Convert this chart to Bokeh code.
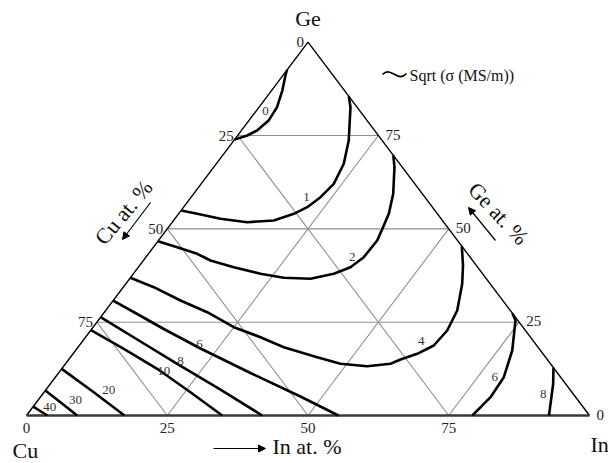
import numpy as np
from bokeh.plotting import figure
from bokeh.models import Range1d, Arrow, NormalHead
from bokeh.core.properties import value
from bokeh.embed import file_html
from bokeh.resources import INLINE

SERIF = "Liberation Serif"

# ---------------- data (compositions in at. %: In, Ge; Cu = 100 - In - Ge) ----------
tick_values = [0, 25, 50, 75]
grid_levels = [25, 50, 75]

c0_in = [0, 1.7, 2.8, 3.5, 3.2, 1.9, 0.3, 0]
c0_ge = [73.9, 75.0, 76.4, 79.0, 82.6, 87.1, 91.5, 92.6]

c1_in = [14.5, 16.25, 20.4, 22.64, 23.55, 22.98, 21.96, 20.47, 17.81, 13.31, 8.11, 3.31, 0]
c1_ge = [85.5, 82.59, 73.67, 67.43, 62.07, 58.48, 55.80, 54.03, 52.24, 51.78, 52.69, 54.03, 54.92]

c2_in = [30.3, 32.1, 35.44, 37.34, 38.19, 38.85, 38.7, 37.68, 35.6, 32.13, 27.26, 22.58, 16.95, 11.92, 8.66, 4.23, 0]
c2_ge = [69.7, 66.52, 59.39, 54.03, 50.09, 46.88, 42.41, 39.73, 37.96, 36.62, 36.89, 37.96, 39.73, 41.52, 43.32, 45.08, 46.7]

c4_in = [54.65, 57.44, 59.75, 62.44, 63.34, 62.97, 61.13, 58.93, 57.73, 53.91, 48.85, 43.82, 36.55, 31.07, 25.0, 18.27, 11.95, 5.43, 0]
c4_ge = [45.35, 40.18, 35.28, 28.13, 22.77, 18.75, 16.53, 15.0, 13.85, 13.21, 13.85, 15.62, 18.30, 20.98, 23.65, 27.67, 30.81, 34.37, 36.9]

c6_in = [0, 6.07, 12.8, 21.93, 34.1, 46.1, 55.4]
c6_ge = [30.8, 27.19, 23.17, 17.95, 11.38, 5.09, 0]

c8_in = [0, 10.34, 19.84, 30.98, 41.86]
c8_ge = [26.33, 19.82, 13.85, 6.96, 0]

c10_in = [0, 8.35, 16.96, 26.0, 34.76]
c10_ge = [22.9, 17.87, 12.51, 6.24, 0]

c20_in = [0, 8.83, 17.4]
c20_ge = [12.5, 6.24, 0]

c30_in = [0, 4.6, 9.0]
c30_ge = [6.7, 3.3, 0]

c40_in = [0, 3.7]
c40_ge = [2.4, 0]

c6r_in = [72.6, 74.13, 77.57, 79.65, 79.97, 79.2]
c6r_ge = [27.4, 25.45, 17.41, 10.26, 4.9, 0]

c8r_in = [87.2, 89.3, 92.8]
c8r_ge = [12.8, 8.49, 0]

label_text = ["0", "1", "2", "4", "6", "8", "10", "20", "30", "40", "6", "8"]
label_in = [1.6, 20.5, 36.65, 60.06, 21.2, 19.99, 18.36, 11.18, 6.69, 3.03, 78.05, 88.96]
label_ge = [81.7, 58.48, 42.41, 20.09, 19.02, 14.73, 12.05, 6.88, 4.02, 2.22, 10.26, 5.63]

# ---------------- geometry ----------------
SX = 5.63     # px per x unit
SY = 3.733    # px per Ge unit
OX, OY = 26.0, 415.0   # picture px of Cu corner
W, H = 608, 463
LEFT, TOP = 0, 0       # where the figure starts in the picture

X0 = (LEFT - OX) / SX
X1 = X0 + W / SX
Y1 = (OY - TOP) / SY
Y0 = Y1 - H / SY


def tern(in_pct, ge_pct):
    a = np.asarray(in_pct, float)
    g = np.asarray(ge_pct, float)
    return a + g / 2.0, g


def dpx(dx, dy):
    """pixel offset -> data offset (dy positive downward)"""
    return dx / SX, -dy / SY


def pt(px, py):
    return (px - OX) / SX, (OY - py) / SY


p = figure(width=W, height=H, x_range=Range1d(X0, X1), y_range=Range1d(Y0, Y1),
           output_backend="svg", toolbar_location=None,
           x_axis_location=None, y_axis_location=None, min_border=0)
p.grid.visible = False
p.outline_line_color = None
p.background_fill_color = "white"
p.border_fill_color = "white"

# grid lines
gxs, gys = [], []
for v in grid_levels:
    x, y = tern([0, 100 - v], [v, v]); gxs.append(list(x)); gys.append(list(y))
    x, y = tern([v, v], [0, 100 - v]); gxs.append(list(x)); gys.append(list(y))
    x, y = tern([0, 100 - v], [100 - v, 0]); gxs.append(list(x)); gys.append(list(y))
p.multi_line(gxs, gys, line_color="#8f8f8f", line_width=1.1)

# triangle
tx, ty = tern([0, 100, 0, 0], [0, 0, 100, 0])
p.line(tx[1:], ty[1:], line_color="black", line_width=1.4)
p.line(tx[:2], ty[:2], line_color="#3a3a3a", line_width=2.4)

# contours
curves = [(c0_in, c0_ge), (c1_in, c1_ge), (c2_in, c2_ge), (c4_in, c4_ge),
          (c6_in, c6_ge), (c8_in, c8_ge), (c10_in, c10_ge), (c20_in, c20_ge),
          (c30_in, c30_ge), (c40_in, c40_ge), (c6r_in, c6r_ge), (c8r_in, c8r_ge)]
cxs, cys = [], []
for ci, cg in curves:
    x, y = tern(ci, cg)
    cxs.append(list(x)); cys.append(list(y))
p.multi_line(cxs, cys, line_color="black", line_width=2.6, line_join="round")

# contour labels
lx, ly = tern(label_in, label_ge)
p.text(list(lx), list(ly), text=label_text, text_font=value(SERIF), text_font_size="13px",
       text_color="#333333", text_align="center", text_baseline="middle")

# tick labels
fs = "15px"
bx, by = tern(tick_values, [0] * 4)
ox, oy = dpx(0, 12)
p.text(list(bx + ox), list(by + oy), text=[str(t) for t in tick_values], text_font=value(SERIF),
       text_font_size=fs, text_color="#222222", text_align="center", text_baseline="middle")
rx, ry = tern([100 - t for t in tick_values], tick_values)
ox, oy = dpx(7, -1)
p.text(list(rx + ox), list(ry + oy), text=[str(t) for t in tick_values], text_font=value(SERIF),
       text_font_size=fs, text_color="#222222", text_align="left", text_baseline="middle")
lgx, lgy = tern([0] * 4, [100 - t for t in tick_values])
ox, oy = dpx(-4, 0)
p.text(list(lgx + ox), list(lgy + oy), text=[str(t) for t in tick_values], text_font=value(SERIF),
       text_font_size=fs, text_color="#222222", text_align="right", text_baseline="middle")

# corner titles
ax_fs = "22px"
gx, gy = tern([0], [100])
ox, oy = dpx(0, -24)
p.text([gx[0] + ox], [gy[0] + oy], text=["Ge"], text_font=value(SERIF), text_font_size=ax_fs,
       text_color="#111111", text_align="center", text_baseline="middle")
cx, cy = tern([0], [0])
ox, oy = dpx(-14, 35)
p.text([cx[0] + ox], [cy[0] + oy], text=["Cu"], text_font=value(SERIF), text_font_size=ax_fs,
       text_color="#111111", text_align="left", text_baseline="middle")
ix, iy = tern([100], [0])
ox, oy = dpx(1, 29)
p.text([ix[0] + ox], [iy[0] + oy], text=["In"], text_font=value(SERIF), text_font_size=ax_fs,
       text_color="#111111", text_align="left", text_baseline="middle")

# In at. % with arrow
x_s, y_s = pt(213, 448)
x_e, y_e = pt(265, 448)
p.add_layout(Arrow(end=NormalHead(size=7, fill_color="black", line_color="black"),
                   x_start=x_s, y_start=y_s, x_end=x_e, y_end=y_e, line_width=1.2))
tx_, ty_ = pt(272, 446)
p.text([tx_], [ty_], text=["In at. %"], text_font=value(SERIF), text_font_size=ax_fs,
       text_color="#111111", text_align="left", text_baseline="middle")

# Cu at. %
tx_, ty_ = pt(123, 212)
p.text([tx_], [ty_], text=["Cu at. %"], text_font=value(SERIF), text_font_size=ax_fs,
       text_color="#111111", text_align="center", text_baseline="middle", angle=np.deg2rad(50))
x_s, y_s = pt(150, 202)
x_e, y_e = pt(122, 239)
p.add_layout(Arrow(end=NormalHead(size=7, fill_color="black", line_color="black"),
                   x_start=x_s, y_start=y_s, x_end=x_e, y_end=y_e, line_width=1.2))

# Ge at. %
tx_, ty_ = pt(498, 213)
p.text([tx_], [ty_], text=["Ge at. %"], text_font=value(SERIF), text_font_size=ax_fs,
       text_color="#111111", text_align="center", text_baseline="middle", angle=np.deg2rad(-47))
x_s, y_s = pt(495, 240)
x_e, y_e = pt(468, 207)
p.add_layout(Arrow(end=NormalHead(size=7, fill_color="black", line_color="black"),
                   x_start=x_s, y_start=y_s, x_end=x_e, y_end=y_e, line_width=1.2))

# legend
ax0, ay0 = pt(382, 74)
ax1, ay1 = pt(406, 73)
cx0, cy0 = pt(391, 65)
cx1, cy1 = pt(397, 83)
p.bezier(x0=[ax0], y0=[ay0], x1=[ax1], y1=[ay1], cx0=[cx0], cy0=[cy0], cx1=[cx1], cy1=[cy1],
         line_color="black", line_width=1.6)
tx_, ty_ = pt(409, 75)
p.text([tx_], [ty_], text=["Sqrt (σ (MS/m))"], text_font=value(SERIF), text_font_size="16px",
       text_color="#111111", text_align="left", text_baseline="middle")

open("out.html", "w").write(file_html(p, INLINE))
